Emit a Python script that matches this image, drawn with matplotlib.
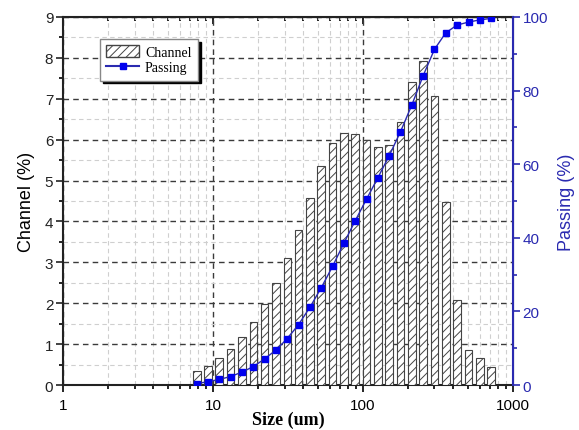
import numpy as np
import matplotlib
matplotlib.use("Agg")
import matplotlib.pyplot as plt
from matplotlib.patches import Patch
from matplotlib.lines import Line2D
from matplotlib.ticker import LogLocator, NullFormatter, MultipleLocator

# particle size bins (um)
size = [7.8, 9.3, 11.0, 13.1, 15.6, 18.6, 22.1, 26.3, 31.3, 37.2, 44.3, 52.7,
        62.7, 74.6, 88.8, 105.7, 125.8, 149.7, 178.0, 212.0, 252.0, 300.0,
        357.0, 425.0, 506.0, 602.0, 716.0]
# channel (%) per bin
channel = [0.35, 0.47, 0.65, 0.88, 1.17, 1.55, 1.99, 2.50, 3.10, 3.79, 4.57, 5.36,
           5.92, 6.15, 6.13, 5.98, 5.82, 5.88, 6.44, 7.42, 7.92, 7.07,
           4.48, 2.09, 0.86, 0.65, 0.43]
# cumulative passing (%)
passing = [0.4, 0.9, 1.5, 2.3, 3.5, 5.0, 7.1, 9.5, 12.6, 16.4, 21.1, 26.4,
           32.2, 38.5, 44.6, 50.5, 56.3, 62.3, 68.8, 76.1, 84.0, 91.2,
           95.7, 97.8, 98.6, 99.2, 99.6]

blue = "#2a2ab0"
marker_blue = "#0000ee"
plt.rcParams["hatch.linewidth"] = 0.7

fig = plt.figure(figsize=(5.79, 4.31), dpi=100)
ax = fig.add_axes([0.1088, 0.1044, 0.777, 0.854])

# bars on a log axis: edges computed in log space
w = 0.05
x = np.array(size)
left = x * 10 ** (-w / 2)
right = x * 10 ** (w / 2)
ax.bar(left, channel, width=right - left, align="edge", color="white",
       edgecolor="#444444", hatch="////", linewidth=0.8, zorder=3)

ax.set_xscale("log")
ax.set_xlim(1, 1000)
ax.set_ylim(0, 9)
ax.yaxis.set_major_locator(MultipleLocator(1))
ax.yaxis.set_minor_locator(MultipleLocator(0.5))
ax.xaxis.set_minor_locator(LogLocator(base=10, subs=np.arange(2, 10)))
ax.xaxis.set_minor_formatter(NullFormatter())
ax.set_xticks([1, 10, 100, 1000])
ax.set_xticklabels(["1", "10", "100", "1000"])

ax.grid(which="major", color="#3a3a3a", linestyle=(0, (4, 3)), linewidth=1.0, zorder=1)
ax.grid(which="minor", color="#cfcfcf", linestyle=(0, (4, 3)), linewidth=0.8, zorder=1)
ax.set_axisbelow(True)

ax.tick_params(axis="y", which="major", direction="out", length=5, width=1.2,
               labelsize=11, colors="#222222", pad=2)
ax.tick_params(axis="y", which="minor", direction="out", length=3, width=1.2)
ax.tick_params(axis="x", which="major", direction="out", length=5, width=1.2,
               labelsize=11, pad=4.5)
ax.tick_params(axis="x", which="minor", direction="out", length=3, width=1.2)

for sp in ["left", "bottom", "top"]:
    ax.spines[sp].set_linewidth(1.5)
    ax.spines[sp].set_color("#222222")

# inward ticks along the top
top = ax.secondary_xaxis("top")
top.set_xticks([1, 10, 100, 1000])
top.xaxis.set_minor_locator(LogLocator(base=10, subs=np.arange(2, 10)))
top.tick_params(which="major", direction="in", length=5, width=1.2, labeltop=False)
top.tick_params(which="minor", direction="in", length=3, width=1.2, labeltop=False)
top.xaxis.set_minor_formatter(NullFormatter())

ax.set_xlabel("Size (um)", fontfamily="Liberation Serif", fontweight="bold",
              fontsize=13, labelpad=-1)
ax.set_ylabel("Channel (%)", fontfamily="Liberation Sans", fontsize=13, labelpad=7)
for lab in ax.get_xticklabels() + ax.get_yticklabels():
    lab.set_fontfamily("Liberation Sans")

ax2 = ax.twinx()
ax2.plot(size, passing, color=blue, linewidth=1.0, marker="s", markersize=5,
         markerfacecolor=marker_blue, markeredgecolor=marker_blue, zorder=5)
ax2.set_ylim(0, 100)
ax2.yaxis.set_major_locator(MultipleLocator(20))
ax2.yaxis.set_minor_locator(MultipleLocator(10))
ax2.tick_params(axis="y", which="major", direction="out", length=5, width=1.2,
                colors=blue, labelsize=11, pad=2)
ax2.tick_params(axis="y", which="minor", direction="out", length=3, width=1.2,
                colors=blue)
for lab in ax2.get_yticklabels():
    lab.set_fontfamily("Liberation Sans")
ax2.spines["right"].set_color(blue)
ax2.spines["right"].set_linewidth(1.5)
for sp in ["left", "bottom", "top"]:
    ax2.spines[sp].set_visible(False)
ax2.set_ylabel("Passing (%)", color=blue, fontfamily="Liberation Sans",
               fontsize=13, labelpad=7)

handles = [Patch(facecolor="white", edgecolor="#444444", hatch="////"),
           Line2D([], [], color=blue, marker="s", markersize=5,
                  markerfacecolor=marker_blue, markeredgecolor=marker_blue)]
leg = ax2.legend(handles, ["Channel", "Passing"], loc="upper left",
                 bbox_to_anchor=(0.082, 0.94), borderaxespad=0,
                 prop={"family": "Liberation Serif", "size": 10},
                 fancybox=False, framealpha=1, edgecolor="#888888",
                 shadow={"color": "black", "alpha": 1},
                 handlelength=2.4, handleheight=0.9, borderpad=0.45,
                 labelspacing=0.15, handletextpad=0.4)
leg.get_frame().set_linewidth(1.0)

fig.savefig("out.png", dpi=100)
